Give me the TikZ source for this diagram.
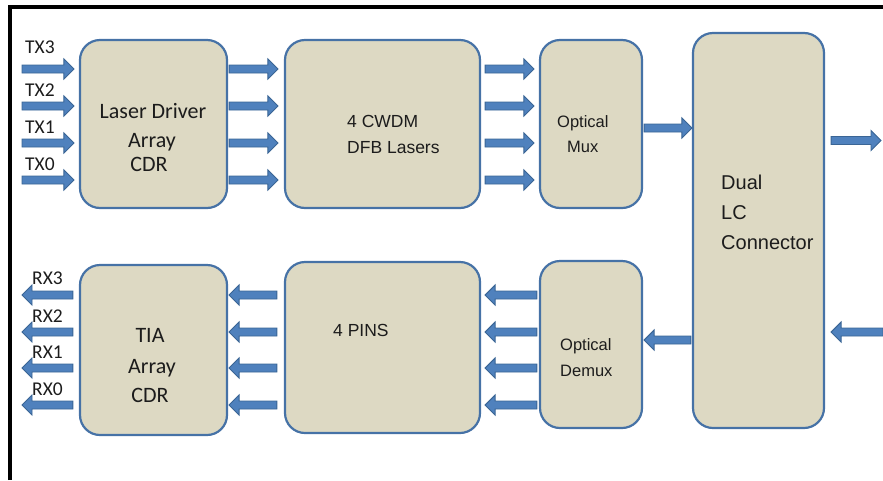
\documentclass[tikz,border=0pt]{standalone}
\usepackage{fontspec}
\setmainfont{Liberation Sans}
\newfontfamily\calfont{Carlito}
\usetikzlibrary{calc}

\definecolor{boxfill}{HTML}{DDD9C3}
\definecolor{boxline}{HTML}{4672A6}
\definecolor{arrfill}{HTML}{4F81BD}
\definecolor{arrline}{HTML}{3A6595}
\definecolor{ink}{HTML}{1C1C1C}

\tikzset{
  block/.style={draw=boxline, fill=boxfill, line width=2.2pt, rounded corners=20pt, inner sep=0pt},
  % thick block arrow drawn along a horizontal connector
  fat/.style={draw=arrline, fill=arrfill, line width=0.9pt,
    to path={let \p1=(\tikztostart), \p2=(\tikztotarget), \p3=($(\p2)!10pt!(\p1)$) in
      (\x1,\y1+4pt) -- (\x3,\y1+4pt) -- (\x3,\y1+10pt) -- (\x2,\y1) --
      (\x3,\y1-10pt) -- (\x3,\y1-4pt) -- (\x1,\y1-4pt) -- cycle}},
  callbl/.style={font=\calfont\fontsize{22}{26}\selectfont, text=ink, inner sep=0pt, anchor=base},
  pinlbl/.style={font=\calfont\fontsize{19.5}{23}\selectfont, text=ink, inner sep=0pt, anchor=base west},
  arlbl/.style={font=\fontsize{17.5}{21}\selectfont, text=ink, inner sep=0pt, anchor=base west},
  smlbl/.style={font=\fontsize{16.5}{20}\selectfont, text=ink, inner sep=0pt, anchor=base west},
  lclbl/.style={font=\fontsize{20}{24}\selectfont, text=ink, inner sep=0pt, anchor=base west},
}

\begin{document}
\begin{tikzpicture}[x=1pt, y=-1pt]
\useasboundingbox (0,0) rectangle (883,480);

% frame lines
\draw[line width=4pt] (10,480) -- (10,7) -- (883,7);

% blocks
\node[block, minimum width=147pt, minimum height=168pt] (ld)    at (153.5,124)   {};
\node[block, minimum width=195pt, minimum height=168pt] (cwdm)  at (382.5,124)   {};
\node[block, minimum width=102pt, minimum height=168pt] (mux)   at (591,124)     {};
\node[block, minimum width=131pt, minimum height=395pt] (lc)    at (758.5,230.5) {};
\node[block, minimum width=147pt, minimum height=170pt] (tia)   at (153.5,350)   {};
\node[block, minimum width=195pt, minimum height=171pt] (pins)  at (382.5,347.5) {};
\node[block, minimum width=102pt, minimum height=167pt] (demux) at (591,344.5)   {};

% block texts
\node[callbl] (ldA) at (153,118) {Laser Driver};
\node[callbl] (ldB) at (152,147) {Array};
\node[callbl] (ldC) at (149,171) {CDR};
\node[callbl] (tiaA) at (150,342) {TIA};
\node[callbl] (tiaB) at (152,373) {Array};
\node[callbl] (tiaC) at (150,402) {CDR};
\node[arlbl] (cwdmA) at (347,127) {4 CWDM};
\node[arlbl] (cwdmB) at (347,153) {DFB Lasers};
\node[arlbl] (pinsA) at (333,336) {4 PINS};
\node[smlbl] (muxA) at (557,127) {Optical};
\node[smlbl] (muxB) at (567,152) {Mux};
\node[smlbl] (dmxA) at (560,350) {Optical};
\node[smlbl] (dmxB) at (560,376) {Demux};
\node[lclbl] (lcA) at (721,189) {Dual};
\node[lclbl] (lcB) at (721,219) {LC};
\node[lclbl] (lcC) at (721,249) {Connector};

% lane rows
\coordinate (t1) at (0,69);
\coordinate (t2) at (0,106);
\coordinate (t3) at (0,143);
\coordinate (t4) at (0,180);
\coordinate (b1) at (0,295);
\coordinate (b2) at (0,332);
\coordinate (b3) at (0,368);
\coordinate (b4) at (0,405);
\coordinate (mrow) at (0,128);
\coordinate (drow) at (0,340);

% electrical inputs and outputs
\coordinate (tx3) at (22,69);
\coordinate (tx2) at (22,106);
\coordinate (tx1) at (22,143);
\coordinate (tx0) at (22,180);
\coordinate (rx3) at (22,295);
\coordinate (rx2) at (22,332);
\coordinate (rx1) at (22,368);
\coordinate (rx0) at (22,405);
\coordinate (fiberout) at (881,140.5);
\coordinate (fiberin) at (883,332);

\node[pinlbl] (tx3l) at (25,53) {TX3};
\node[pinlbl] (tx2l) at (25,96) {TX2};
\node[pinlbl] (tx1l) at (25,133) {TX1};
\node[pinlbl] (tx0l) at (25,170) {TX0};
\node[pinlbl] (rx3l) at (32,284) {RX3};
\node[pinlbl] (rx2l) at (32,322) {RX2};
\node[pinlbl] (rx1l) at (32,358) {RX1};
\node[pinlbl] (rx0l) at (32,395) {RX0};

% transmit path
\foreach \t/\s in {t1/tx3, t2/tx2, t3/tx1, t4/tx0} {
  \draw[fat] (\s) to ($(ld.west |- \t)+(-5,0)$);
  \draw[fat] ($(ld.east |- \t)+(1,0)$) to ($(cwdm.west |- \t)+(-6,0)$);
  \draw[fat] ($(cwdm.east |- \t)+(4,0)$) to ($(mux.west |- \t)+(-5,0)$);
}
\draw[fat] ($(mux.east |- mrow)+(1,0)$) to (lc.west |- mrow);
\draw[fat] ($(lc.east |- fiberout)+(6,0)$) to (fiberout);

% receive path
\draw[fat] (fiberin) to ($(lc.east |- fiberin)+(6,0)$);
\draw[fat] ($(lc.west |- drow)+(-1,0)$) to ($(demux.east |- drow)+(1,0)$);
\foreach \b/\s in {b1/rx3, b2/rx2, b3/rx1, b4/rx0} {
  \draw[fat] ($(demux.west |- \b)+(-2,0)$) to ($(pins.east |- \b)+(4,0)$);
  \draw[fat] ($(pins.west |- \b)+(-7,0)$) to ($(tia.east |- \b)+(1,0)$);
  \draw[fat] ($(tia.west |- \b)+(-6,0)$) to (\s);
}
\end{tikzpicture}
\end{document}
